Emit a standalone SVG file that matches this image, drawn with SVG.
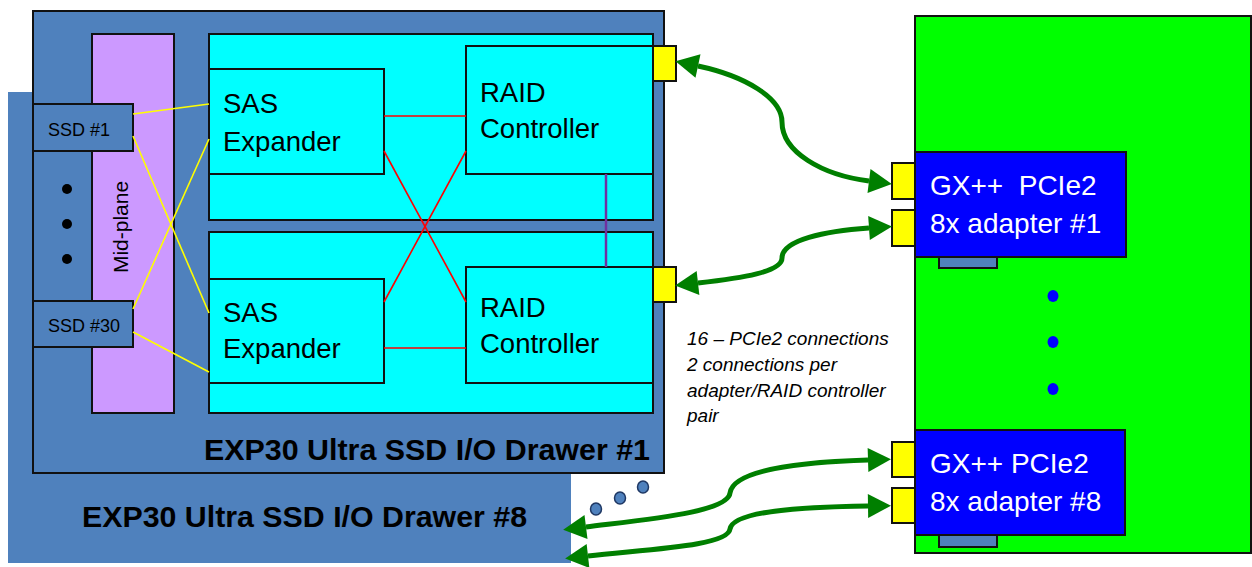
<svg xmlns="http://www.w3.org/2000/svg" width="1252" height="567" viewBox="0 0 1252 567">
<style>
.box{stroke:#111;stroke-width:2}
.steel{fill:#4f81bd}
.cyan{fill:#00ffff}
.t{font-family:"Liberation Sans",Arial,sans-serif;fill:#000}
.big{font-size:27.5px}
.ssd{font-size:18px}
.w{fill:#fff;font-size:28px}
.drw{font-size:29px;font-weight:bold}
.note{font-size:19px;font-style:italic}
.yl{stroke:#ffff00;stroke-width:1.6;fill:none}
.rl{stroke:#ff0000;stroke-width:1.6;fill:none}
.arrow{stroke:#007f00;stroke-width:5;fill:none;marker-start:url(#ah);marker-end:url(#ah)}
</style>
<defs>
<marker id="ah" markerUnits="userSpaceOnUse" markerWidth="24" markerHeight="26" refX="0" refY="12" orient="auto-start-reverse" viewBox="0 0 24 24" overflow="visible">
<path d="M0,0 L23,12 L0,24 z" fill="#007f00"/>
</marker>
</defs>

<g id="drawer8">
<rect class="steel" x="8" y="92" width="563" height="471"/>
<text class="t drw" x="82" y="527" textLength="445" lengthAdjust="spacingAndGlyphs">EXP30 Ultra SSD I/O Drawer #8</text>
</g>

<g id="drawer1">
<rect class="steel box" x="33" y="11" width="631" height="462"/>
<text class="t drw" x="204" y="460" textLength="446" lengthAdjust="spacingAndGlyphs">EXP30 Ultra SSD I/O Drawer #1</text>
</g>

<g id="midplane">
<rect class="box" fill="#cc99ff" x="92" y="34" width="82" height="379"/>
<text class="t" font-size="21" text-anchor="middle" transform="translate(128,227) rotate(-90)">Mid-plane</text>
</g>

<g id="panel-top"><rect class="cyan box" x="209" y="34" width="444" height="186"/></g>
<g id="panel-bottom"><rect class="cyan box" x="209" y="232" width="444" height="181"/></g>

<g id="ssd1">
<rect class="steel box" x="33" y="104" width="100" height="47"/>
<text class="t ssd" x="48" y="136">SSD #1</text>
</g>
<g id="ssd30">
<rect class="steel box" x="33" y="301" width="100" height="46"/>
<text class="t ssd" x="48" y="332">SSD #30</text>
</g>
<g id="ssd-dots" fill="#000">
<circle cx="67" cy="189" r="5"/>
<circle cx="67" cy="224" r="5"/>
<circle cx="67" cy="259" r="5"/>
</g>

<g id="sas-top">
<rect class="cyan box" x="209" y="69" width="175" height="105"/>
<text class="t big" x="223" y="113">SAS</text>
<text class="t big" x="223" y="151">Expander</text>
</g>
<g id="raid-top">
<rect class="cyan box" x="466" y="46" width="187" height="128"/>
<text class="t big" x="480" y="102">RAID</text>
<text class="t big" x="480" y="138">Controller</text>
</g>
<g id="sas-bottom">
<rect class="cyan box" x="209" y="279" width="175" height="104"/>
<text class="t big" x="223" y="322">SAS</text>
<text class="t big" x="223" y="358">Expander</text>
</g>
<g id="raid-bottom">
<rect class="cyan box" x="466" y="267" width="187" height="116"/>
<text class="t big" x="480" y="317">RAID</text>
<text class="t big" x="480" y="353">Controller</text>
</g>

<g id="port-raid-top"><rect class="box" fill="#ffff00" x="653" y="46" width="23" height="35"/></g>
<g id="port-raid-bottom"><rect class="box" fill="#ffff00" x="653" y="267" width="23" height="35"/></g>

<g id="server">
<rect class="box" fill="#00ff00" x="915" y="16" width="336" height="537"/>
<g fill="#0000ff">
<ellipse cx="1053" cy="296" rx="5.5" ry="6"/>
<ellipse cx="1053" cy="342" rx="5.5" ry="6"/>
<ellipse cx="1053" cy="389" rx="5.5" ry="6"/>
</g>
</g>

<g id="adapter1">
<rect class="steel box" x="939" y="256" width="58" height="12"/>
<rect class="box" fill="#0000ff" x="915" y="152" width="211" height="105"/>
<rect class="box" fill="#ffff00" x="892" y="163" width="23" height="36"/>
<rect class="box" fill="#ffff00" x="892" y="210" width="23" height="36"/>
<text class="t w" x="930" y="195" xml:space="preserve">GX++  PCIe2</text>
<text class="t w" x="930" y="233">8x adapter #1</text>
</g>

<g id="adapter8">
<rect class="steel box" x="939" y="534" width="58" height="13"/>
<rect class="box" fill="#0000ff" x="915" y="430" width="210" height="105"/>
<rect class="box" fill="#ffff00" x="892" y="442" width="23" height="35"/>
<rect class="box" fill="#ffff00" x="892" y="488" width="23" height="35"/>
<text class="t w" x="930" y="473">GX++ PCIe2</text>
<text class="t w" x="930" y="511">8x adapter #8</text>
</g>

<g id="drawer-dots" fill="#4f81bd" stroke="#1f3864" stroke-width="1.5">
<ellipse cx="596" cy="509" rx="5.5" ry="6"/>
<ellipse cx="620" cy="498" rx="5.5" ry="6"/>
<ellipse cx="643" cy="487" rx="5.5" ry="6"/>
</g>

<g id="note">
<text class="t note" x="687" y="345">16 – PCIe2 connections</text>
<text class="t note" x="687" y="371">2 connections per</text>
<text class="t note" x="687" y="397">adapter/RAID controller</text>
<text class="t note" x="687" y="422">pair</text>
</g>

<g id="connectors">
<line class="yl" x1="133" y1="114" x2="209" y2="104"/>
<line class="yl" x1="133" y1="136" x2="209" y2="313"/>
<line class="yl" x1="209" y1="139" x2="133" y2="309"/>
<line class="yl" x1="133" y1="332" x2="209" y2="372"/>
<line class="rl" x1="384" y1="116" x2="466" y2="116" stroke-width="2.4"/>
<line class="rl" x1="384" y1="348" x2="466" y2="348" stroke-width="2.4"/>
<line class="rl" x1="384" y1="151" x2="466" y2="302"/>
<line class="rl" x1="466" y1="151" x2="384" y2="302"/>
<line x1="606" y1="174" x2="606" y2="267" stroke="#7030a0" stroke-width="2.5"/>
<path class="arrow" d="M698,66 C745,76 782,98 782,122 C782,152 822,175 869,181"/>
<path class="arrow" d="M698,283 C742,278 782,272 782,258 C782,240 825,231 869,228"/>
<path class="arrow" d="M586,527 C650,519 728,512 730,493 C733,470 800,462 868,460"/>
<path class="arrow" d="M588,556 C650,549 728,546 730,529 C733,511 800,507 868,506"/>
</g>
</svg>
